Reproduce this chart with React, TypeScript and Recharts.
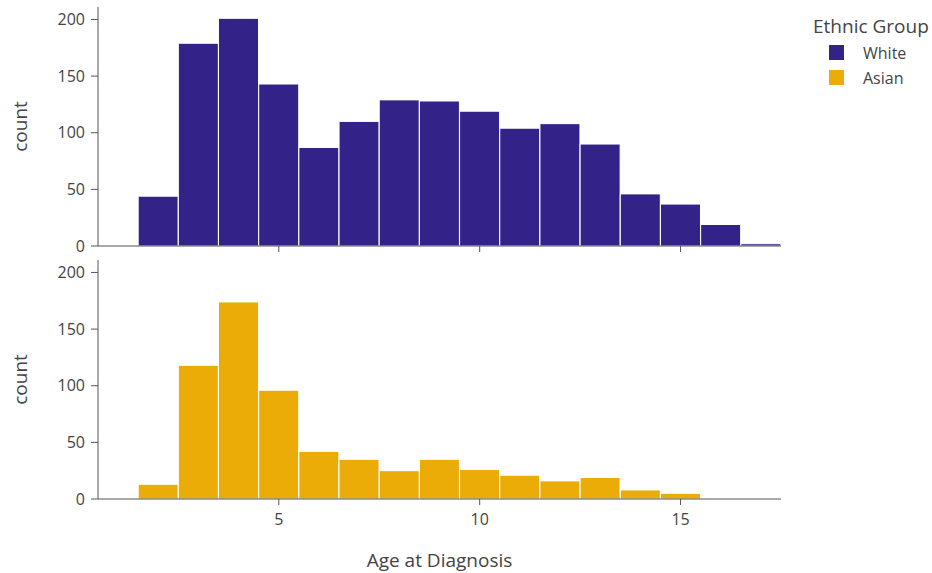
import React from 'react';
import { BarChart, Bar, XAxis, YAxis } from 'recharts';

const binCenters = [2, 3, 4, 5, 6, 7, 8, 9, 10, 11, 12, 13, 14, 15, 16, 17];
const whiteCounts = [44, 179, 201, 143, 87, 110, 129, 128, 119, 104, 108, 90, 46, 37, 19, 2];
const asianCounts = [13, 118, 174, 96, 42, 35, 25, 35, 26, 21, 16, 19, 8, 5, 0, 0];
const xTicks = [5, 10, 15];
const yTicks = [0, 50, 100, 150, 200];
const groups = ['White', 'Asian'];
const colors = ['#332288', '#EBAC08'];

const whiteData = binCenters.map((x, i) => ({ x, count: whiteCounts[i] }));
const asianData = binCenters.map((x, i) => ({ x, count: asianCounts[i] }));

const FONT = '"Open Sans", "Noto Sans", sans-serif';
const TEXT = '#444';
const AXIS = '#555';
const W = 932;

function Panel({ data, color, bottom }: { data: any[]; color: string; bottom: boolean }) {
  const height = bottom ? 320 : 260;
  return (
    <BarChart
      width={W}
      height={height}
      data={data}
      margin={{ top: 7, right: 151, bottom: 0, left: 0 }}
      barCategoryGap={0}
      barGap={0}
    >
      <XAxis
        dataKey="x"
        type="number"
        domain={[0.5, 17.5]}
        ticks={xTicks}
        interval={0}
        allowDataOverflow
        height={bottom ? 74 : 14}
        axisLine={{ stroke: AXIS, strokeWidth: 1 }}
        tickLine={{ stroke: AXIS }}
        tickSize={6}
        tickMargin={9}
        tick={{ fill: TEXT, fontSize: 16, fontFamily: FONT }}
        tickFormatter={bottom ? undefined : () => ''}
        label={
          bottom
            ? {
                value: 'Age at Diagnosis',
                position: 'insideBottom',
                offset: 6,
                style: { fill: TEXT, fontSize: 19, fontFamily: FONT },
              }
            : undefined
        }
      />
      <YAxis
        type="number"
        domain={[0, 211]}
        ticks={yTicks}
        interval={0}
        allowDataOverflow
        width={98}
        axisLine={{ stroke: AXIS, strokeWidth: 1 }}
        tickLine={{ stroke: AXIS }}
        tickSize={7}
        tickMargin={6}
        tick={{ fill: TEXT, fontSize: 16, fontFamily: FONT }}
        label={{
          value: 'count',
          angle: -90,
          position: 'insideLeft',
          offset: 20,
          style: { textAnchor: 'middle', fill: TEXT, fontSize: 19, fontFamily: FONT },
        }}
      />
      <Bar dataKey="count" fill={color} stroke="#ffffff" strokeWidth={1} isAnimationActive={false} />
    </BarChart>
  );
}

export default function App() {
  return (
    <div style={{ position: 'absolute', left: 0, top: 0, width: W, height: 573, background: '#fff', fontFamily: FONT }}>
      <div style={{ position: 'absolute', left: 0, top: 0 }}>
        <Panel data={whiteData} color={colors[0]} bottom={false} />
      </div>
      <div style={{ position: 'absolute', left: 0, top: 253 }}>
        <Panel data={asianData} color={colors[1]} bottom={true} />
      </div>
      <div style={{ position: 'absolute', left: 813, top: 13, color: TEXT, fontFamily: FONT }}>
        <div style={{ fontSize: 19, lineHeight: '26px', whiteSpace: 'nowrap' }}>Ethnic Group</div>
        {groups.map((g, i) => (
          <div key={g} style={{ display: 'flex', alignItems: 'center', height: 25, marginTop: i === 0 ? 1 : 0 }}>
            <div style={{ width: 15, height: 15, background: colors[i], marginLeft: 16, marginRight: 19 }} />
            <span style={{ fontSize: 16 }}>{g}</span>
          </div>
        ))}
      </div>
    </div>
  );
}
